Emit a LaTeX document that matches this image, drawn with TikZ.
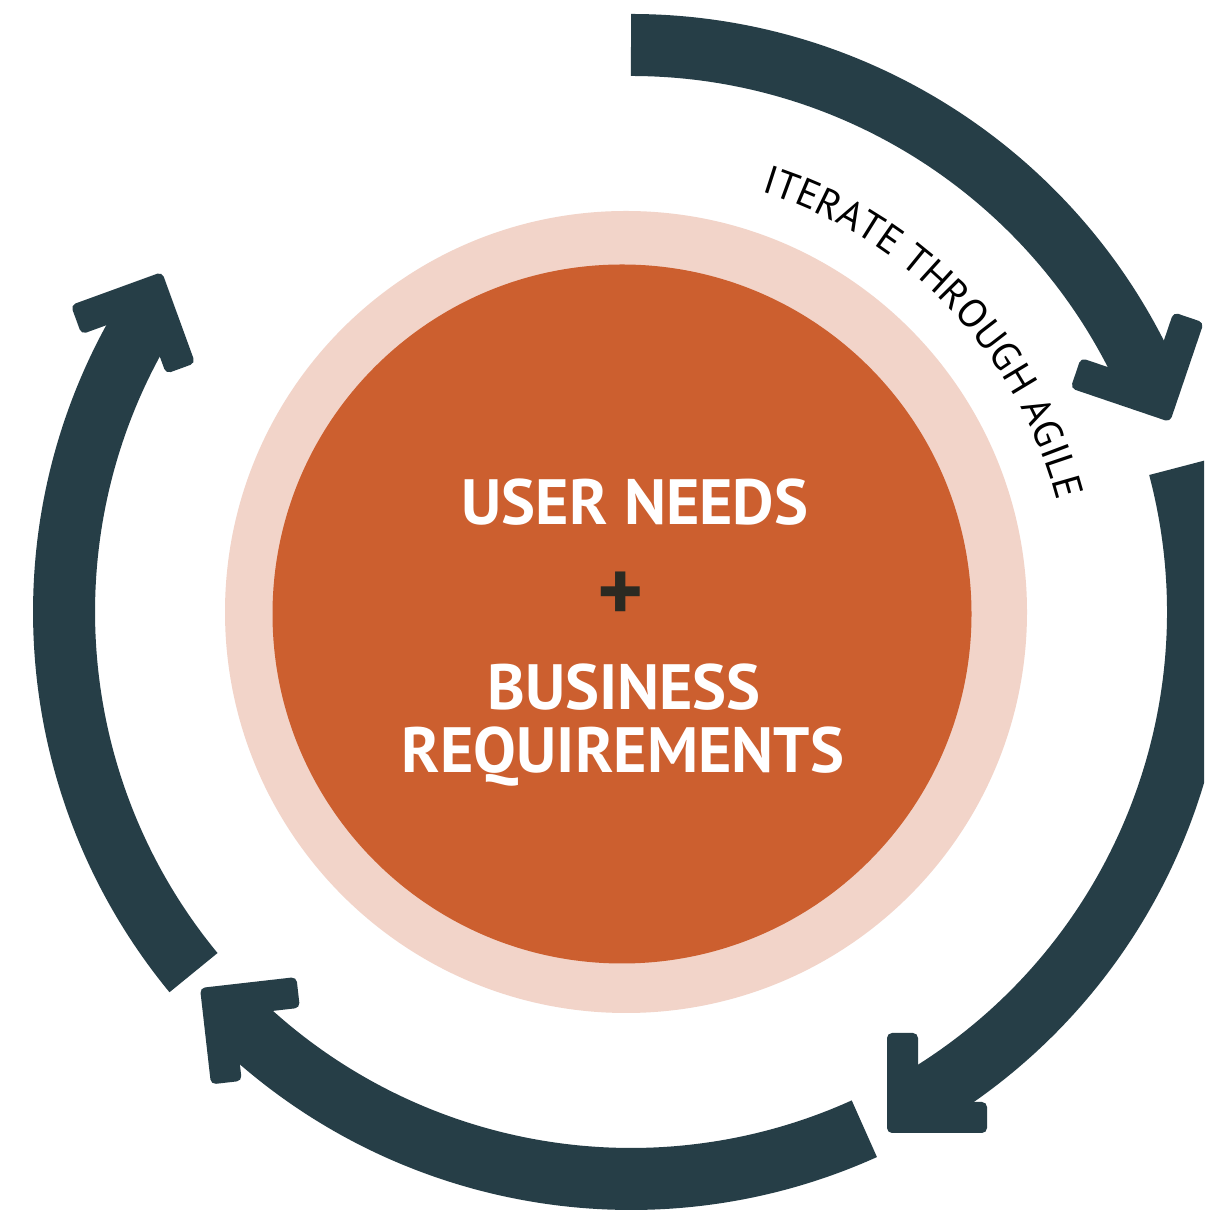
\documentclass[tikz,border=0pt]{standalone}
\usepackage{fontspec}
\setmainfont{PT Sans}
\usetikzlibrary{decorations.text}
\definecolor{arrowcol}{HTML}{263E47}
\definecolor{ringcol}{HTML}{F2D4C9}
\definecolor{corecol}{HTML}{CC5F2F}
\definecolor{pluscol}{HTML}{2B2A22}
\newcommand\arcfnt{\fontsize{40}{48}\selectfont}
\newcommand\mainfnt{\bfseries\fontsize{64}{70}\selectfont}
\newcommand\plusfnt{\bfseries\fontsize{88}{90}\selectfont}
\begin{document}
\begin{tikzpicture}[x=1pt,y=1pt,
  shaft/.style={draw=arrowcol, line width=62pt},
  headL/.style={fill=arrowcol, rounded corners=5pt},
  maintext/.style={text=white, font=\mainfnt, inner sep=0pt, anchor=base}]
\useasboundingbox (0,0) rectangle (1204,1214);
\clip (0,0) rectangle (1204,1214);
\fill[white] (0,0) rectangle (1204,1214);
\coordinate (C) at (631,602);
% central circles
\fill[ringcol] (626,602) circle[radius=401];
\fill[corecol] (622,600) circle[radius=349.5];
% arrow shafts
\draw[shaft] (C) ++(90:567) arc[start angle=90, end angle=23.5, radius=567];
\draw[shaft] (C) ++(14.8:567) arc[start angle=14.8, end angle=-60, radius=567];
\draw[shaft] (C) ++(-65.7:567) arc[start angle=-65.7, end angle=-135, radius=567];
\draw[shaft] (C) ++(219.5:567) arc[start angle=219.5, end angle=147.7, radius=567];
% arrow heads
\fill[headL, shift={(1170,792)}, rotate=71.25] (0,0) -- (105,0) -- (105,32) -- (32,32) -- (32,105) -- (0,105) -- cycle;
\fill[headL, shift={(887,81)}, rotate=0] (0,0) -- (100,0) -- (100,31) -- (31,31) -- (31,100) -- (0,100) -- cycle;
\fill[headL, shift={(200,226)}, rotate=276.5] (0,0) -- (97,0) -- (97,31) -- (31,31) -- (31,97) -- (0,97) -- cycle;
\fill[headL, shift={(162,942)}, rotate=200] (0,0) -- (97,0) -- (97,31) -- (31,31) -- (31,97) -- (0,97) -- cycle;
% arc label
\path[decorate, decoration={text along path, text={|\arcfnt|ITERATE THROUGH AGILE}, text align=center}]
  (C) ++(80:440) arc[start angle=80, end angle=7.4, radius=440];
% centre text
\node[maintext] (un) at (635,689) {USER NEEDS};
\node[text=pluscol, font=\plusfnt, inner sep=0pt] (pl) at (621,617) {+};
\node[maintext] (bu) at (624,504) {BUSINESS};
\node[maintext] (rq) at (623,441) {REQUIREMENTS};
\end{tikzpicture}
\end{document}
